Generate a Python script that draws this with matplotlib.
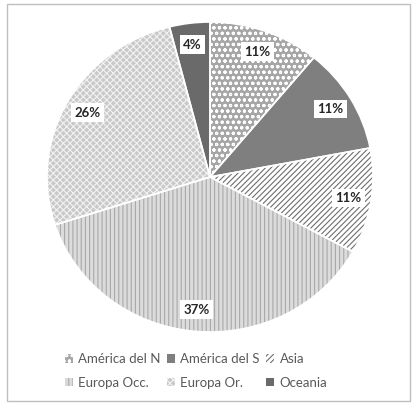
import matplotlib.pyplot as plt
from matplotlib.patches import Rectangle

plt.rcParams['font.family'] = ['Lato', 'DejaVu Sans']
plt.rcParams['hatch.linewidth'] = 0.8

regions = ['América del N', 'América del S', 'Asia', 'Europa Occ.', 'Europa Or.', 'Oceania']
shares = [11, 11, 11, 37, 26, 4]

face_colors = ['#a6a6a6', '#7f7f7f', '#ffffff', '#dcdcdc', '#c9c9c9', '#6a6a6a']
hatch_colors = ['#ffffff', '#8a8a8a', '#6e6e6e', '#a9a9a9', '#f2f2f2', '#6a6a6a']
hatches = ['ooo', '', '//////', '||||', 'xxxxx', '']

fig = plt.figure(figsize=(4.12, 4.03), dpi=100)
fig.add_artist(Rectangle((0.018, 0.005), 0.978, 0.985, transform=fig.transFigure,
                         fill=False, edgecolor='#bfbfbf', linewidth=1.0))

ax = fig.add_axes([47 / 412, 71 / 403, 326 / 412, 310 / 403])
wedges, texts, autotexts = ax.pie(
    shares, colors=face_colors, startangle=90, counterclock=False,
    autopct='%.0f%%', pctdistance=0.86,
    wedgeprops=dict(linewidth=0),
    textprops=dict(fontsize=9.5, fontweight='bold', color='#262626'))
for w, h, hc in zip(wedges, hatches, hatch_colors):
    w.set_hatch(h)
    w.set_edgecolor(hc)
for t in autotexts:
    t.set_bbox(dict(boxstyle='square,pad=0.25', fc='white', ec='none'))

# white borders between slices
ax.pie(shares, startangle=90, counterclock=False,
       wedgeprops=dict(fill=False, edgecolor='white', linewidth=1.2))
ax.set_aspect('auto')
ax.set_xlim(-1, 1)
ax.set_ylim(-1, 1)

# legend handles
handles = []
for fc, h, hc in zip(face_colors, hatches, hatch_colors):
    r = Rectangle((0, 0), 1, 1, facecolor=fc, hatch=h, edgecolor=hc, linewidth=0)
    handles.append(r)

order = [0, 3, 1, 4, 2, 5]
fig.legend([handles[i] for i in order], [regions[i] for i in order],
           ncol=3, loc='center', bbox_to_anchor=(196 / 412, 1 - 371 / 403),
           frameon=False, fontsize=9.5, labelcolor='#595959',
           handlelength=0.6, handleheight=0.6, handletextpad=0.4,
           columnspacing=0.5, labelspacing=0.9)

fig.savefig('out.png', dpi=100)
